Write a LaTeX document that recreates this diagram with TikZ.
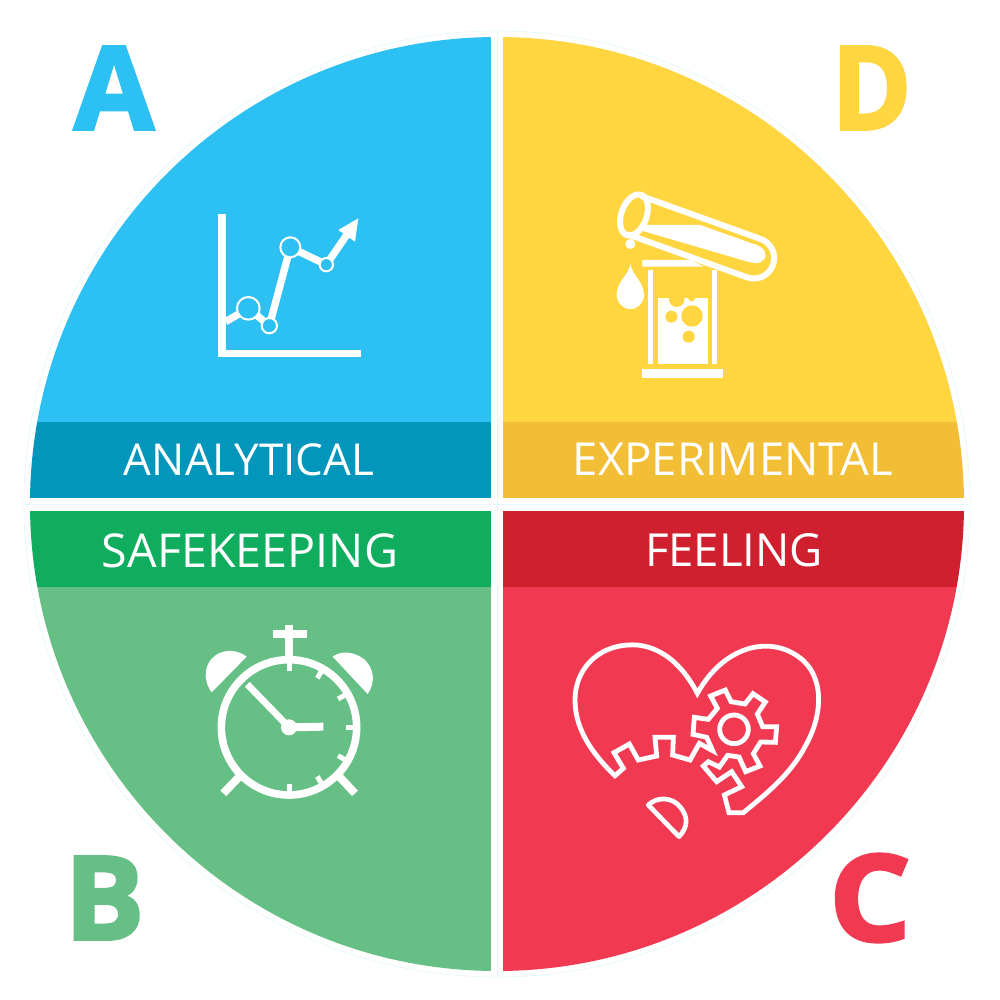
\documentclass[tikz,border=0pt]{standalone}
\usepackage{fontspec}
\usepackage{graphicx}
\newfontfamily\labelfont{Open Sans}
\newfontfamily\letterfont[BoldFeatures={FakeBold=2.5}]{Open Sans}
\definecolor{cblue}{HTML}{2DC0F2}\definecolor{dblue}{HTML}{0296BC}
\definecolor{cyel}{HTML}{FFD540}\definecolor{dyel}{HTML}{F2BE35}
\definecolor{cgrn}{HTML}{66BF84}\definecolor{dgrn}{HTML}{10AD5F}
\definecolor{cred}{HTML}{F13A52}\definecolor{dred}{HTML}{D02030}
\definecolor{pale}{HTML}{E6F7FC}
\tikzset{
 bandlabel/.style={text=white,inner sep=0pt,font=\labelfont\fontsize{46}{46}\selectfont},
 bigletter/.style={inner sep=0pt,font=\letterfont\bfseries\fontsize{120}{120}\selectfont},
 icon/.style={shift={#1},scale=1/3},
}
\begin{document}
\begin{tikzpicture}[x=1pt,y=-1pt]
\useasboundingbox (0,0) rectangle (1000,1000);
\fill[white] (0,0) rectangle (1000,1000);
% faint outline
\draw[pale,line width=0.7pt] (497,504) circle[radius=473];
\draw[pale,line width=0.7pt] (24,504) -- (970,504);
\draw[pale,line width=0.7pt] (497,31) -- (497,977);
\begin{scope}
\clip (497,504) circle[radius=467];
\fill[cblue] (0,0) rectangle (491,422);
\fill[dblue] (0,422) rectangle (491,498);
\fill[cyel] (503,0) rectangle (1000,422);
\fill[dyel] (503,422) rectangle (1000,498);
\fill[dgrn] (0,511) rectangle (491,587);
\fill[cgrn] (0,587) rectangle (491,1000);
\fill[dred] (503,511) rectangle (1000,587);
\fill[cred] (503,587) rectangle (1000,1000);
\end{scope}
% band labels
\node[bandlabel] (analytical) at (249,459.5) {\resizebox{250pt}{!}{ANALYTICAL}};
\node[bandlabel] (experimental) at (733,459.5) {\resizebox{320pt}{!}{EXPERIMENTAL}};
\node[bandlabel] (safekeeping) at (250,550.5) {\resizebox{296pt}{!}{SAFEKEEPING}};
\node[bandlabel] (feeling) at (734,550.5) {\resizebox{178pt}{!}{FEELING}};
% big letters
\node[bigletter,text=cblue] (la) at (114,88) {\resizebox{80pt}{83pt}{A}};
\node[bigletter,text=cyel] (ld) at (871.5,88) {\resizebox{80pt}{83pt}{D}};
\node[bigletter,text=cgrn] (lb) at (104.5,898) {\resizebox{80pt}{83pt}{B}};
\node[bigletter,text=cred] (lc) at (870,898) {\resizebox{82pt}{87pt}{C}};
% chart icon
\begin{scope}[icon={(190,190)}]
\fill[white] (84,72) rectangle (107,501);
\fill[white] (84,479) rectangle (513,501);
\draw[white,line width=7.3pt] (107,395) -- (175,355) -- (238,407) -- (301,172) -- (409,224) -- (470,135);
\fill[white] (505,85) -- (445,120) -- (495,155) -- cycle;
\foreach \x/\y/\r in {175/355/34,238/407/23,301/172/30,409/224/20}
  \draw[white,fill=cblue,line width=2pt] (\x,\y) circle[radius=\r];
\end{scope}
% test tube icon
\begin{scope}[icon={(600,180)}]
\fill[white] (127,240) -- (272,240) -- (312,260) -- (127,260) -- cycle;
\fill[white] (145,270) rectangle (160,552);
\fill[white] (335,270) rectangle (350,552);
\fill[white] (127,566) rectangle (368,595);
\fill[white] (173,353) rectangle (323,552);
\fill[cyel] (230,358) circle[radius=23];
\fill[cyel] (275,353) circle[radius=11];
\fill[cyel] (214,410) circle[radius=18];
\fill[cyel] (276,408) circle[radius=32];
\fill[cyel] (266,470) circle[radius=18];
\fill[white] (91,252) .. controls (96,285) and (132,305) .. (132,345) .. controls (132,368) and (114,387) .. (91,387) .. controls (68,387) and (50,368) .. (50,345) .. controls (50,305) and (86,285) .. (91,252) -- cycle;
\fill[white] (91,192) circle[radius=15];
\fill[white] (125,135) -- (300,135) -- (470,195) .. controls (495,205) and (505,225) .. (490,240) .. controls (480,252) and (465,250) .. (450,247) -- (125,152) -- cycle;
\end{scope}
\begin{scope}[shift={(600,180)},scale=1/3,shift={(102,105)},rotate=-19.8]
\draw[white,line width=6pt,line join=round] (0,-61) -- (382,-61) .. controls (416,-61) and (443,-34) .. (443,0) .. controls (443,34) and (416,61) .. (382,61) -- (0,61);
\draw[white,line width=6pt] (0,0) ellipse[x radius=38,y radius=64];
\end{scope}
% clock icon
\begin{scope}[icon={(190,615)}]
\draw[white,line width=7.6pt] (297,337) circle[radius=203];
\fill[white] (248,44) rectangle (350,68);
\fill[white] (286,30) rectangle (310,125);
\foreach \a in {0,30,60,90,120,150,180}
  \draw[white,line width=5pt] (297,337) ++(90-\a:170) -- ++(90-\a:24);
\draw[white,line width=6.8pt] (297,337) -- (172,208);
\draw[white,line width=8pt] (297,337) -- (400,335);
\fill[white] (297,337) circle[radius=24];
\draw[white,line width=8pt] (148,485) -- (100,535);
\draw[white,line width=8pt] (448,485) -- (495,535);
\fill[white] (65,232) .. controls (35,190) and (45,145) .. (75,122) .. controls (105,100) and (145,105) .. (170,125) -- cycle;
\fill[white] (428,125) .. controls (455,105) and (495,110) .. (525,135) .. controls (555,165) and (555,205) .. (533,237) -- cycle;
\end{scope}
% heart icon
\begin{scope}[icon={(560,630)}]
\draw[white,line width=4.8pt,line join=miter] (452,198) -- (496,180) -- (513,215) -- (555,222) -- (579,191) -- (616,216) -- (592,252) -- (608,290) -- (650,290) -- (646,337) -- (602,336) -- (580,371) -- (600,408) -- (557,425) -- (537,381) -- (503,376) -- (478,411) -- (445,395) -- (430,408) -- (470,455) -- (515,425) -- (545,470) -- (493,495) -- (507,548) -- (550,548)
 .. controls (620,490) and (690,435) .. (735,350) .. controls (790,255) and (795,135) .. (715,80) .. controls (625,15) and (490,50) .. (412,190)
 .. controls (350,70) and (265,40) .. (205,45) .. controls (110,50) and (45,120) .. (45,210) .. controls (45,300) and (100,375) .. (165,437)
 -- (190,415) -- (162,368) -- (208,342) -- (235,390) -- (290,378) -- (285,322) -- (340,322) -- (338,375) -- (390,390) -- (418,340) -- (458,362) -- (440,322) -- (399,313) -- (403,262) -- (445,268) -- (472,235) -- cycle;
\draw[white,line width=4.8pt] (522,298) circle[radius=43];
\draw[white,line width=4.7pt,line join=round] (265,525) .. controls (290,500) and (335,500) .. (360,530) .. controls (385,560) and (385,590) .. (357,620) -- cycle;
\end{scope}
\end{tikzpicture}
\end{document}
